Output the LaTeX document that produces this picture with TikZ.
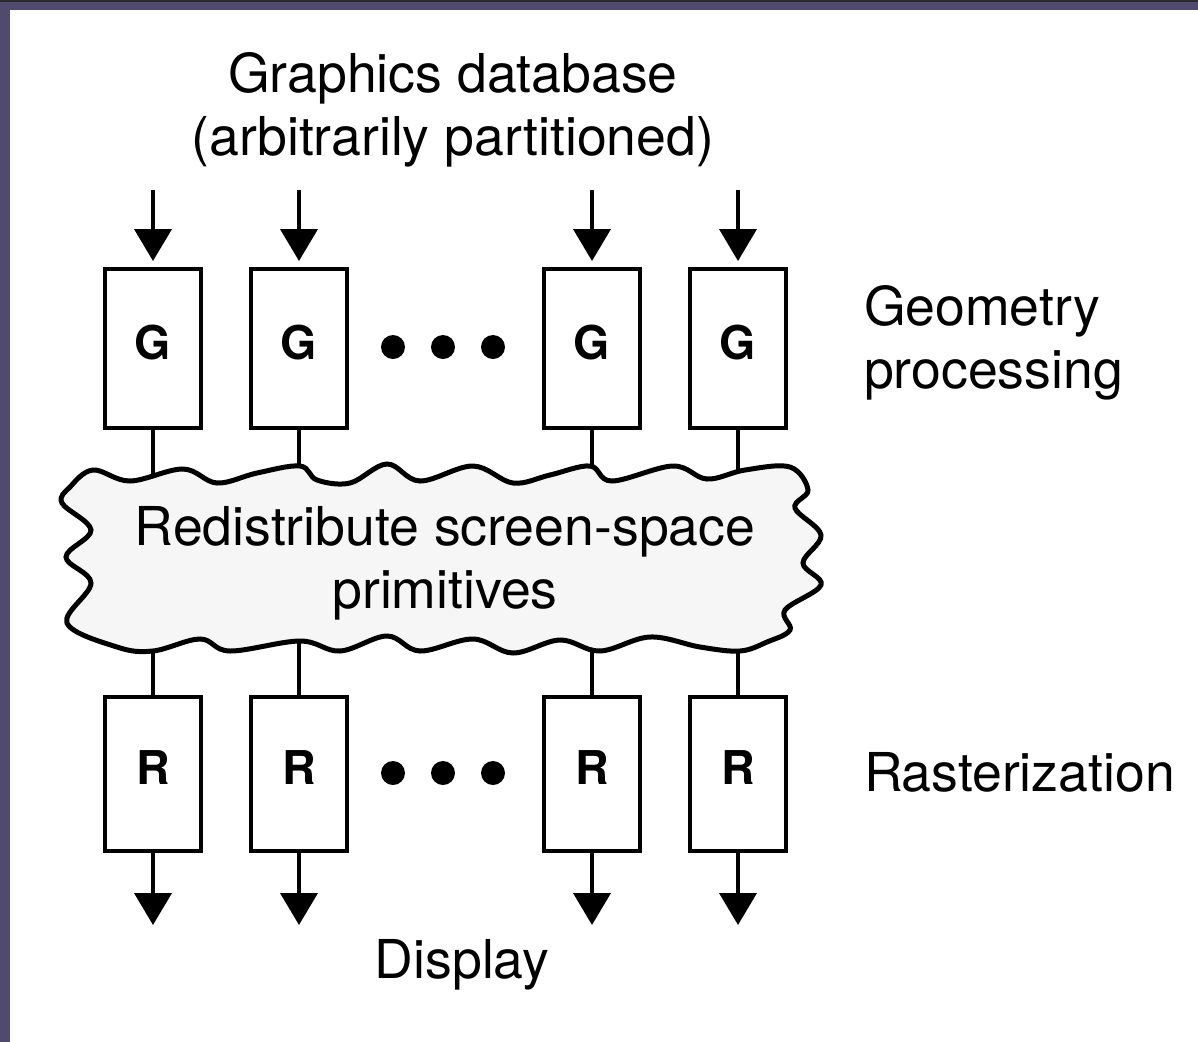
\documentclass[tikz,border=0pt]{standalone}
\usepackage{fontspec}
\setmainfont{TeX Gyre Heros}
\usepackage{tikz}
\usetikzlibrary{arrows.meta}
\definecolor{framecol}{HTML}{4F4A6E}
\definecolor{framedark}{HTML}{2B2B2B}
\definecolor{cloudfill}{HTML}{F6F6F6}

\begin{document}
\begin{tikzpicture}[x=0.02cm, y=-0.02cm, % one unit = one pixel of the layout
	> = {Triangle[length=0.64cm,width=0.74cm]}, % arrow head style
	line width=0.08cm,
	proc/.style={draw, rectangle, inner sep=0pt, minimum width=1.92cm,
		text depth=0.24cm, font=\fontsize{26.5}{30}\selectfont\bfseries},
	gbox/.style={proc, minimum height=3.18cm},
	rbox/.style={proc, minimum height=3.08cm},
	lbl/.style={inner sep=0pt, font=\fontsize{30.5}{36}\selectfont},
	dot/.style={fill=black}]
	\useasboundingbox (0,0) rectangle (1198,1042);
	% window frame
	\fill[framecol] (0,0) rectangle (10,1042);
	\fill[framecol] (0,0) rectangle (1198,10);
	\fill[framedark] (0,0) rectangle (1198,1.5);

	\node[lbl, align=center] (db) at (453,110) {Graphics database\\(arbitrarily partitioned)};
	\node[lbl, align=left, anchor=west] (geo) at (862,343) {Geometry\\processing};
	\node[lbl, anchor=west] (ras) at (862,772) {Rasterization};
	\node[lbl] (disp) at (462,965) {Display};

	\node[gbox] (g1) at (153,348.5) {G};
	\node[gbox] (g2) at (299,348.5) {G};
	\node[gbox] (g3) at (592,348.5) {G};
	\node[gbox] (g4) at (738,348.5) {G};
	\node[rbox] (r1) at (153,774) {R};
	\node[rbox] (r2) at (299,774) {R};
	\node[rbox] (r3) at (592,774) {R};
	\node[rbox] (r4) at (738,774) {R};

	\coordinate (in1) at (153,190);
	\coordinate (in2) at (299,190);
	\coordinate (in3) at (592,190);
	\coordinate (in4) at (738,190);
	\coordinate (out1) at (153,925);
	\coordinate (out2) at (299,925);
	\coordinate (out3) at (592,925);
	\coordinate (out4) at (738,925);

	\draw[->, shorten >=0.12cm] (in1) -- (g1);
	\draw[->, shorten >=0.12cm] (in2) -- (g2);
	\draw[->, shorten >=0.12cm] (in3) -- (g3);
	\draw[->, shorten >=0.12cm] (in4) -- (g4);
	\draw[->] (r1) -- (out1);
	\draw[->] (r2) -- (out2);
	\draw[->] (r3) -- (out3);
	\draw[->] (r4) -- (out4);

	% links run under the cloud
	\draw (g1) -- (r1);
	\draw (g2) -- (r2);
	\draw (g3) -- (r3);
	\draw (g4) -- (r4);

	\draw[line width=0.1cm, fill=cloudfill] plot[smooth cycle, tension=0.6] coordinates {
		(93,470) (130,481) (183,469) (217,483) (257,473) (300,466) (317,480)
		(350,483) (387,464) (420,481) (473,466) (513,483) (550,475) (590,466)
		(612,481) (673,466) (707,479) (745,470) (790,467) (808,490) (795,508)
		(821,535) (803,563) (821,585) (785,610) (790,630) (767,642) (740,651)
		(700,647) (650,637) (600,651) (560,640) (513,653) (473,639) (420,651)
		(387,636) (340,651) (300,641) (230,651) (200,639) (153,651) (117,647)
		(67,623) (91,583) (66,557) (91,530) (62,503) (70,487)};
	\node[lbl, align=center] (redist) at (445,563) {Redistribute screen-space\\primitives};

	% ellipsis between the columns
	\fill[dot] (393,347) circle[radius=0.24cm];
	\fill[dot] (443,347) circle[radius=0.24cm];
	\fill[dot] (493,347) circle[radius=0.24cm];
	\fill[dot] (393,773) circle[radius=0.24cm];
	\fill[dot] (443,773) circle[radius=0.24cm];
	\fill[dot] (493,773) circle[radius=0.24cm];
\end{tikzpicture}
\end{document}
